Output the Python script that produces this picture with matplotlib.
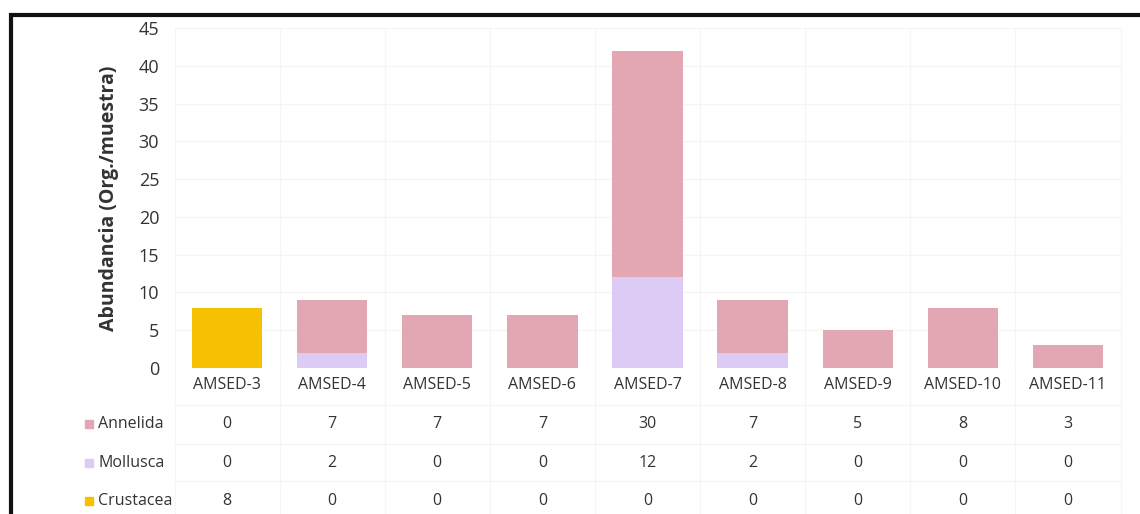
import numpy as np
import matplotlib.pyplot as plt
from matplotlib.patches import Rectangle
from matplotlib.transforms import blended_transform_factory

plt.rcParams['font.family'] = ['Open Sans', 'DejaVu Sans']

# Data
stations = ['AMSED-3', 'AMSED-4', 'AMSED-5', 'AMSED-6', 'AMSED-7',
            'AMSED-8', 'AMSED-9', 'AMSED-10', 'AMSED-11']
annelida = [0, 7, 7, 7, 30, 7, 5, 8, 3]
mollusca = [0, 2, 0, 0, 12, 2, 0, 0, 0]
crustacea = [8, 0, 0, 0, 0, 0, 0, 0, 0]

groups = ['Annelida', 'Mollusca', 'Crustacea']
colors = ['#e2a7b3', '#dccbf4', '#f6c100']
series = [annelida, mollusca, crustacea]

fig = plt.figure(figsize=(11.4, 5.14), dpi=100)
ax = fig.add_axes([174.5 / 1140, 1 - 368 / 514, (1120.5 - 174.5) / 1140, 340 / 514])

x = np.arange(len(stations))
crus = np.array(crustacea)
moll = np.array(mollusca)
ann = np.array(annelida)
# stacking order: Crustacea at bottom, then Mollusca, then Annelida
ax.bar(x, crus, width=0.67, color=colors[2], zorder=2)
ax.bar(x, moll, width=0.67, bottom=crus, color=colors[1], zorder=2)
ax.bar(x, ann, width=0.67, bottom=crus + moll, color=colors[0], zorder=2)

grid_col = '#f5f5f5'
ax.set_xlim(-0.5, len(stations) - 0.5)
ax.set_ylim(0, 45)
ax.set_yticks(np.arange(0, 46, 5))
ax.tick_params(axis='y', length=0, labelsize=13, colors='#333333', pad=11)
ax.set_xticks([])
for s in ax.spines.values():
    s.set_visible(False)
ax.yaxis.grid(True, color=grid_col, lw=1, zorder=0)
ax.set_ylabel('Abundancia (Org./muestra)', fontsize=14, fontweight='bold',
               color='#333333', labelpad=14)

# faint vertical separators, running down through the table
trans = blended_transform_factory(ax.transData, ax.transAxes)
for xi in np.arange(-0.5, len(stations), 1.0):
    ax.plot([xi, xi], [1.0, -0.45], transform=trans, color=grid_col,
            lw=1, clip_on=False, zorder=0)

# category row and data table
row_y = [-0.05, -0.165, -0.28, -0.39]
for xi, name in zip(x, stations):
    ax.text(xi, row_y[0], name, transform=trans, ha='center', va='center',
            fontsize=11.5, color='#333333')
for r, (grp, col, vals) in enumerate(zip(groups, colors, series)):
    yy = row_y[r + 1]
    ax.plot([-0.5, len(stations) - 0.5], [yy + 0.057, yy + 0.057],
            transform=trans, color=grid_col, lw=1, clip_on=False, zorder=0)
    for xi, v in zip(x, vals):
        ax.text(xi, yy, str(v), transform=trans, ha='center', va='center',
                fontsize=11.5, color='#333333')
    # legend key + label
    fy = 1 - (368 - yy * 340) / 514
    fig.patches.append(Rectangle((85 / 1140, fy - 4 / 514), 8 / 1140, 8 / 514,
                                 transform=fig.transFigure, color=col))
    fig.text(98 / 1140, fy, grp, ha='left', va='center', fontsize=11.5,
             color='#333333')

# black frame around the figure (right side runs off the crop)
fig.patches.append(Rectangle((11 / 1140, -0.05), 1.05, 1.05 - 15 / 514,
                             transform=fig.transFigure, fill=False,
                             edgecolor='#111111', lw=3))

fig.savefig('out.png', dpi=100)
